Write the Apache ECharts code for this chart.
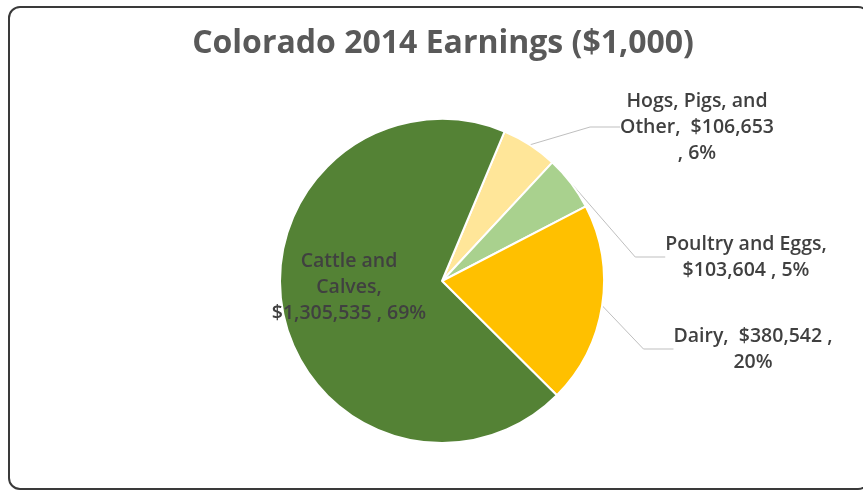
<!DOCTYPE html>
<html>
<head>
<meta charset="utf-8">
<script src="https://cdn.jsdelivr.net/npm/echarts@6/dist/echarts.min.js"></script>
<style>
  html, body { margin: 0; padding: 0; background: #ffffff; }
  #chart { width: 863px; height: 491px; }
</style>
</head>
<body>
<div id="chart"></div>
<script>
// Colorado farm earnings, 2014, in thousands of dollars
const categories = ['Hogs, Pigs, and\nOther', 'Poultry and Eggs', 'Dairy', 'Cattle and\nCalves'];
const earnings = [106653, 103604, 380542, 1305535];
const sliceColors = ['#FFE699', '#A9D18E', '#FFC000', '#548235'];

// How each label joins name, value and percent (line breaks as laid out)
const labelJoins = [
  [',  ', '\n, '],
  [',\n', ' , '],
  [',  ', ' ,\n'],
  [',\n', ' , ']
];
// Label block centres
const labelCentres = [[697, 127], [746, 257], [753, 349], [349, 287]];

const chart = echarts.init(document.getElementById('chart'), null, { renderer: 'canvas' });

const data = categories.map((name, i) => ({
  name: name,
  value: earnings[i],
  itemStyle: { color: sliceColors[i] },
  label: i === 3 ? { position: 'inside' } : { position: 'outside' },
  labelLine: { show: i !== 3 }
}));

chart.setOption({
  animation: false,
  backgroundColor: '#ffffff',
  title: {
    text: 'Colorado 2014 Earnings ($1,000)',
    left: 438,
    textAlign: 'center',
    top: 23,
    textStyle: {
      fontFamily: 'Open Sans',
      fontWeight: 'bold',
      fontSize: 32,
      color: '#595959'
    }
  },
  graphic: [{
    type: 'rect',
    shape: { x: 9, y: 7, width: 860, height: 482, r: 11 },
    style: { fill: 'none', stroke: '#3a3a3a', lineWidth: 2 },
    silent: true,
    z: 10
  }],
  series: [{
    type: 'pie',
    center: [442, 281],
    radius: 162,
    startAngle: 67.3,
    clockwise: true,
    avoidLabelOverlap: false,
    data: data,
    itemStyle: { borderColor: '#ffffff', borderWidth: 2 },
    label: {
      show: true,
      fontFamily: 'Open Sans',
      fontWeight: 600,
      fontSize: 19.5,
      lineHeight: 26,
      color: '#404040',
      align: 'center',
      formatter: function (p) {
        const j = labelJoins[p.dataIndex];
        const money = '$' + p.value.toLocaleString('en-US');
        return p.name + j[0] + money + j[1] + Math.round(p.percent) + '%';
      }
    },
    labelLine: {
      lineStyle: { color: '#bfbfbf', width: 1 }
    },
    labelLayout: function (p) {
      const c = labelCentres[p.dataIndex];
      return { x: c[0], y: c[1], align: 'center', verticalAlign: 'middle' };
    }
  }]
});
</script>
</body>
</html>
